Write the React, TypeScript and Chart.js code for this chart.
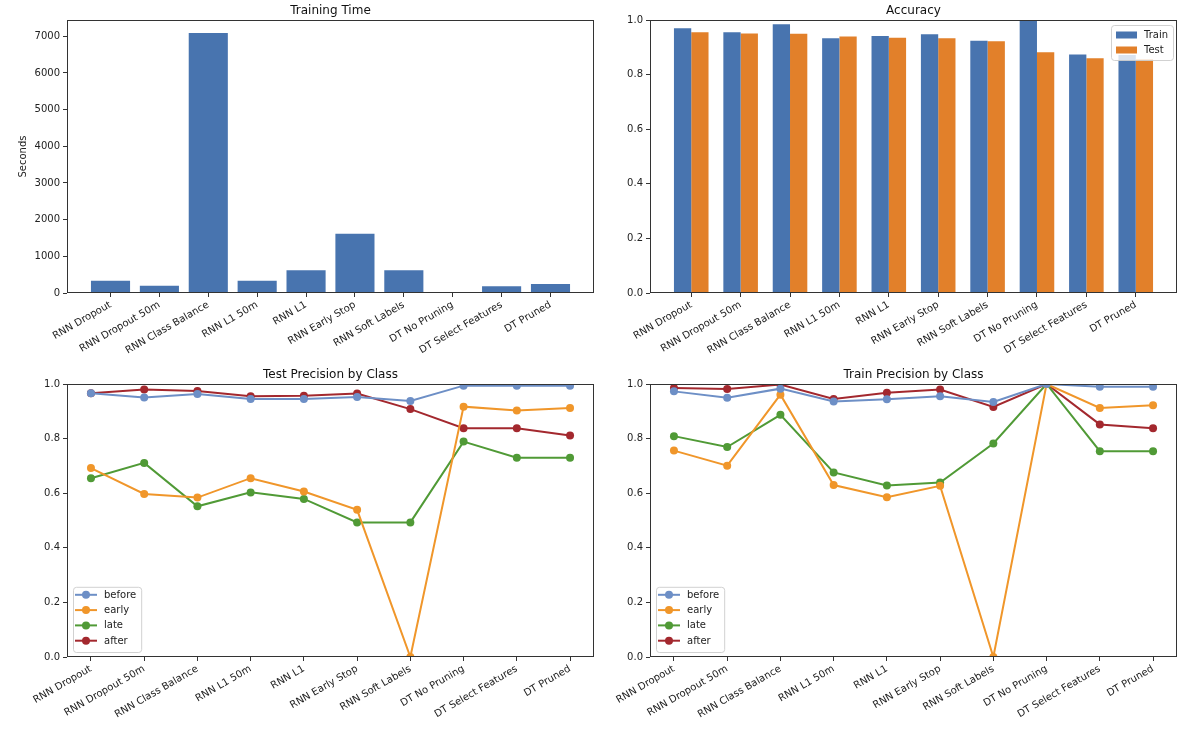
import React, { useEffect, useRef } from "react";
import { Chart, registerables } from "chart.js";

Chart.register(...registerables);

const categories = [
  "RNN Dropout",
  "RNN Dropout 50m",
  "RNN Class Balance",
  "RNN L1 50m",
  "RNN L1",
  "RNN Early Stop",
  "RNN Soft Labels",
  "DT No Pruning",
  "DT Select Features",
  "DT Pruned",
];

const trainingSeconds = [336, 200, 7090, 336, 618, 1618, 618, 3, 182, 245];

const accuracyTrain = [0.97, 0.955, 0.984, 0.933, 0.941, 0.948, 0.924, 1.0, 0.874, 0.872];
const accuracyTest = [0.955, 0.951, 0.95, 0.94, 0.935, 0.933, 0.922, 0.882, 0.86, 0.856];

const testBefore = [0.966, 0.951, 0.963, 0.945, 0.945, 0.952, 0.938, 0.994, 0.994, 0.994];
const testEarly = [0.692, 0.597, 0.584, 0.655, 0.606, 0.539, 0.0, 0.917, 0.903, 0.912];
const testLate = [0.655, 0.711, 0.552, 0.603, 0.579, 0.493, 0.493, 0.789, 0.73, 0.73];
const testAfter = [0.966, 0.98, 0.974, 0.955, 0.957, 0.965, 0.908, 0.838, 0.838, 0.811];

const trainBefore = [0.973, 0.95, 0.983, 0.936, 0.944, 0.955, 0.934, 1.0, 0.99, 0.99];
const trainEarly = [0.756, 0.701, 0.961, 0.63, 0.585, 0.627, 0.0, 1.0, 0.912, 0.922];
const trainLate = [0.809, 0.769, 0.887, 0.676, 0.628, 0.639, 0.782, 1.0, 0.754, 0.754];
const trainAfter = [0.985, 0.982, 0.998, 0.945, 0.968, 0.98, 0.916, 1.0, 0.852, 0.838];

const secondsTicks = [0, 1000, 2000, 3000, 4000, 5000, 6000, 7000];
const fractionTicks = [0, 0.2, 0.4, 0.6, 0.8, 1.0];

const classNames = ["before", "early", "late", "after"];
const accuracyNames = ["Train", "Test"];

const BAR_BLUE = "#4874AF";
const BAR_ORANGE = "#E2802A";
const CLASS_COLORS = ["#6D8FC6", "#F0962A", "#509A36", "#A3282E"];

const FONT = "'DejaVu Sans', 'Liberation Sans', sans-serif";

Chart.defaults.font.family = FONT;
Chart.defaults.font.size = 10;
Chart.defaults.color = "#222";

type LegendItem = { label: string; color: string };
type Decor = {
  title: string;
  yLabel?: string;
  legend: { kind: "patch" | "line"; corner: "ur" | "ll"; items: LegendItem[] } | null;
};

function roundRectPath(ctx: CanvasRenderingContext2D, x: number, y: number, w: number, h: number, r: number) {
  ctx.beginPath();
  ctx.moveTo(x + r, y);
  ctx.lineTo(x + w - r, y);
  ctx.arcTo(x + w, y, x + w, y + r, r);
  ctx.lineTo(x + w, y + h - r);
  ctx.arcTo(x + w, y + h, x + w - r, y + h, r);
  ctx.lineTo(x + r, y + h);
  ctx.arcTo(x, y + h, x, y + h - r, r);
  ctx.lineTo(x, y + r);
  ctx.arcTo(x, y, x + r, y, r);
  ctx.closePath();
}

function decorPlugin(d: Decor) {
  return {
    id: "decor",
    afterDraw(chart: any) {
      const { ctx, chartArea: a } = chart;
      ctx.save();
      // frame
      ctx.strokeStyle = "#333";
      ctx.lineWidth = 1;
      ctx.strokeRect(
        Math.round(a.left) + 0.5,
        Math.round(a.top) + 0.5,
        Math.round(a.right - a.left) - 1,
        Math.round(a.bottom - a.top) - 1
      );
      // title
      ctx.fillStyle = "#111";
      ctx.font = `12px ${FONT}`;
      ctx.textAlign = "center";
      ctx.textBaseline = "middle";
      ctx.fillText(d.title, (a.left + a.right) / 2, a.top - 9);
      // y label
      if (d.yLabel) {
        ctx.save();
        ctx.font = `10px ${FONT}`;
        ctx.fillStyle = "#222";
        ctx.translate(a.left - 44, (a.top + a.bottom) / 2);
        ctx.rotate(-Math.PI / 2);
        ctx.fillText(d.yLabel, 0, 0);
        ctx.restore();
      }
      // legend
      if (d.legend) {
        const lg = d.legend;
        ctx.font = `10px ${FONT}`;
        const step = lg.kind === "patch" ? 15 : 15.3;
        const textOff = lg.kind === "patch" ? 33 : 31;
        let maxW = 0;
        lg.items.forEach((it) => {
          maxW = Math.max(maxW, ctx.measureText(it.label).width);
        });
        const w = textOff + maxW + 5;
        const h = lg.items.length * step + (lg.kind === "patch" ? 5 : 4);
        let bx: number, by: number;
        if (lg.corner === "ur") {
          bx = a.right - 4 - w;
          by = a.top + 5;
        } else {
          bx = a.left + 6;
          by = a.bottom - 5 - h;
        }
        roundRectPath(ctx, bx + 0.5, by + 0.5, w, h, 3);
        ctx.fillStyle = "rgba(255,255,255,0.8)";
        ctx.fill();
        ctx.strokeStyle = "rgba(204,204,204,0.9)";
        ctx.lineWidth = 1;
        ctx.stroke();
        lg.items.forEach((it, i) => {
          const cy = by + (lg.kind === "patch" ? 10 : 8) + i * step;
          if (lg.kind === "patch") {
            ctx.fillStyle = it.color;
            ctx.fillRect(bx + 5, cy - 3.5, 21, 7);
          } else {
            ctx.strokeStyle = it.color;
            ctx.lineWidth = 2;
            ctx.beginPath();
            ctx.moveTo(bx + 2, cy);
            ctx.lineTo(bx + 24, cy);
            ctx.stroke();
            ctx.fillStyle = it.color;
            ctx.beginPath();
            ctx.arc(bx + 13, cy, 4, 0, Math.PI * 2);
            ctx.fill();
          }
          ctx.fillStyle = "#222";
          ctx.textAlign = "left";
          ctx.textBaseline = "middle";
          ctx.fillText(it.label, bx + textOff, cy + 0.5);
        });
      }
      ctx.restore();
    },
  };
}

function xScale(min: number, max: number, height: number) {
  return {
    type: "linear",
    min,
    max,
    offset: false,
    bounds: "data",
    afterBuildTicks: (s: any) => {
      s.ticks = categories.map((_, i) => ({ value: i }));
    },
    afterFit: (s: any) => {
      s.height = height;
    },
    ticks: {
      autoSkip: false,
      minRotation: 30,
      maxRotation: 30,
      padding: 2,
      color: "#222",
      font: { size: 10 },
      callback: (v: any) => categories[Math.round(Number(v))],
    },
    grid: { display: true, offset: false, drawOnChartArea: false, drawTicks: true, tickLength: 4, color: "#333" },
    border: { display: false },
  };
}

function yScale(min: number, max: number, tickValues: number[], width: number, fmt: (v: number) => string) {
  return {
    type: "linear",
    min,
    max,
    bounds: "data",
    afterBuildTicks: (s: any) => {
      s.ticks = tickValues.map((v) => ({ value: v }));
    },
    afterFit: (s: any) => {
      s.width = width;
    },
    ticks: {
      padding: 3,
      color: "#222",
      font: { size: 10 },
      callback: (v: any) => fmt(Number(v)),
    },
    grid: { display: true, drawOnChartArea: false, drawTicks: true, tickLength: 4, color: "#333" },
    border: { display: false },
  };
}

const toPoints = (vals: number[]) => vals.map((v, i) => ({ x: i, y: v }));

function lineDatasets(series: number[][]) {
  return series.map((vals, k) => ({
    label: classNames[k],
    data: toPoints(vals),
    borderColor: CLASS_COLORS[k],
    backgroundColor: CLASS_COLORS[k],
    pointBackgroundColor: CLASS_COLORS[k],
    pointBorderColor: CLASS_COLORS[k],
    pointBorderWidth: 0,
    pointRadius: 4,
    borderWidth: 2,
    tension: 0,
    clip: 0,
  }));
}

function baseOptions(pad: any, scales: any) {
  return {
    responsive: false,
    animation: false,
    devicePixelRatio: 1,
    layout: { padding: pad },
    plugins: { legend: { display: false }, title: { display: false }, tooltip: { enabled: false } },
    scales,
  };
}

// top row canvas: 0..362 ; chart area y 20..293
// bottom row canvas: 362..739 ; chart area y 384..657
const TOP_H = 362;
const BOT_TOP = 362;
const BOT_H = 739 - 362;

function buildTraining(canvas: HTMLCanvasElement) {
  return new Chart(canvas, {
    type: "bar",
    data: {
      datasets: [
        {
          label: "Seconds",
          data: toPoints(trainingSeconds),
          backgroundColor: BAR_BLUE,
          barPercentage: 0.8,
          categoryPercentage: 1,
        },
      ],
    },
    options: baseOptions(
      { top: 20, right: 6, left: 0, bottom: 0 },
      {
        x: xScale(-0.89, 9.89, TOP_H - 293),
        y: yScale(0, 7444.5, secondsTicks, 67, (v) => String(v)),
      }
    ),
    plugins: [decorPlugin({ title: "Training Time", yLabel: "Seconds", legend: null })],
  } as any);
}

function buildAccuracy(canvas: HTMLCanvasElement) {
  return new Chart(canvas, {
    type: "bar",
    data: {
      datasets: [
        {
          label: accuracyNames[0],
          data: toPoints(accuracyTrain),
          backgroundColor: BAR_BLUE,
          barPercentage: 1,
          categoryPercentage: 0.7,
        },
        {
          label: accuracyNames[1],
          data: toPoints(accuracyTest),
          backgroundColor: BAR_ORANGE,
          barPercentage: 1,
          categoryPercentage: 0.7,
        },
      ],
    },
    options: baseOptions(
      { top: 20, right: 15, left: 0, bottom: 0 },
      {
        x: xScale(-0.835, 9.835, TOP_H - 293),
        y: yScale(0, 1, fractionTicks, 50, (v) => v.toFixed(1)),
      }
    ),
    plugins: [
      decorPlugin({
        title: "Accuracy",
        legend: {
          kind: "patch",
          corner: "ur",
          items: [
            { label: accuracyNames[0], color: BAR_BLUE },
            { label: accuracyNames[1], color: BAR_ORANGE },
          ],
        },
      }),
    ],
  } as any);
}

function buildPrecision(canvas: HTMLCanvasElement, title: string, series: number[][], yWidth: number, rightPad: number) {
  return new Chart(canvas, {
    type: "line",
    data: { datasets: lineDatasets(series) },
    options: baseOptions(
      { top: 384 - BOT_TOP, right: rightPad, left: 0, bottom: 0 },
      {
        x: xScale(-0.45, 9.45, 739 - 657),
        y: yScale(0, 1, fractionTicks, yWidth, (v) => v.toFixed(1)),
      }
    ),
    plugins: [
      decorPlugin({
        title,
        legend: {
          kind: "line",
          corner: "ll",
          items: classNames.map((n, k) => ({ label: n, color: CLASS_COLORS[k] })),
        },
      }),
    ],
  } as any);
}

function Panel(props: { left: number; top: number; width: number; height: number; build: (c: HTMLCanvasElement) => Chart }) {
  const ref = useRef<HTMLCanvasElement | null>(null);
  const { build } = props;
  useEffect(() => {
    if (!ref.current) return;
    const chart = build(ref.current);
    return () => chart.destroy();
  }, [build]);
  return (
    <canvas
      ref={ref}
      width={props.width}
      height={props.height}
      style={{
        position: "absolute",
        left: props.left,
        top: props.top,
        width: props.width,
        height: props.height,
      }}
    />
  );
}

const buildTest = (c: HTMLCanvasElement) =>
  buildPrecision(c, "Test Precision by Class", [testBefore, testEarly, testLate, testAfter], 67, 6);
const buildTrain = (c: HTMLCanvasElement) =>
  buildPrecision(c, "Train Precision by Class", [trainBefore, trainEarly, trainLate, trainAfter], 50, 15);

export default function App() {
  return (
    <div
      style={{
        position: "absolute",
        left: 0,
        top: 0,
        width: 1192,
        height: 739,
        background: "#ffffff",
        overflow: "hidden",
      }}
    >
      <Panel left={0} top={0} width={600} height={TOP_H} build={buildTraining} />
      <Panel left={600} top={0} width={592} height={TOP_H} build={buildAccuracy} />
      <Panel left={0} top={BOT_TOP} width={600} height={BOT_H} build={buildTest} />
      <Panel left={600} top={BOT_TOP} width={592} height={BOT_H} build={buildTrain} />
    </div>
  );
}
